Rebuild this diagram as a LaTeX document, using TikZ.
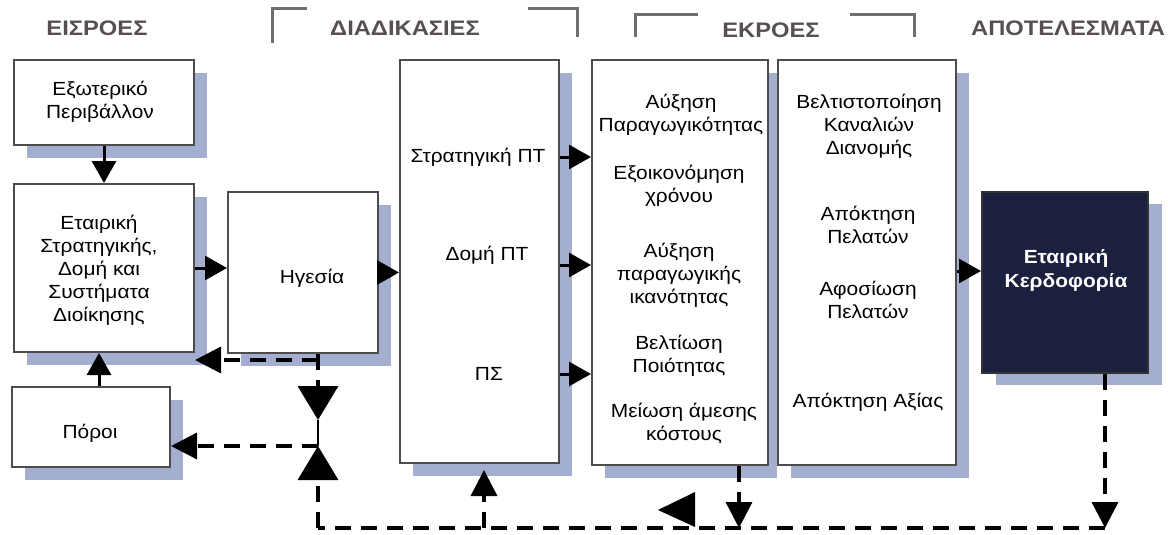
\documentclass[tikz,border=0pt]{standalone}
\usepackage{fontspec}
\setmainfont{Liberation Sans}[FakeStretch=1.1]
\usetikzlibrary{arrows.meta}
\definecolor{shadowc}{RGB}{163,174,208}
\definecolor{navy}{RGB}{26,32,62}
\definecolor{hdr}{RGB}{88,80,80}
\definecolor{brk}{RGB}{110,110,110}
\tikzset{
  box/.style={draw=black!70, line width=2pt, fill=white, inner sep=0pt},
  darkbox/.style={draw=black!80, line width=2pt, fill=navy, inner sep=0pt},
  shadowbox/.style={fill=shadowc, draw=none},
  txt/.style={align=center, font=\fontsize{19}{23}\selectfont, inner sep=0pt},
  wtxt/.style={align=center, font=\bfseries\fontsize{19}{24}\selectfont, text=white, inner sep=0pt},
  hdrtxt/.style={font=\bfseries\fontsize{21}{24}\selectfont\addfontfeature{FakeStretch=1.13}, text=hdr, inner sep=0pt},
  solidarr/.style={line width=3pt, -{Triangle[length=22pt,width=24pt]}},
  dline/.style={line width=3.5pt, dash pattern=on 16pt off 10pt},
  darr/.style={dline, -{Triangle[length=26pt,width=26pt]}},
  bigdarr/.style={dline, -{Triangle[length=34pt,width=40pt]}},
  bracket/.style={draw=brk, line width=3pt},
}
\begin{document}
\begin{tikzpicture}[x=1pt,y=-1pt]
\path[use as bounding box] (0,0) rectangle (1168,535);

% headers
\node[hdrtxt] (h1) at (97,28) {ΕΙΣΡΟΕΣ};
\node[hdrtxt] (h2) at (405,28) {ΔΙΑΔΙΚΑΣΙΕΣ};
\node[hdrtxt] (h3) at (771,30) {ΕΚΡΟΕΣ};
\node[hdrtxt] (h4) at (1068,28) {ΑΠΟΤΕΛΕΣΜΑΤΑ};

% brackets
\draw[bracket] (272,43) -- (272,9) -- (307,9);
\draw[bracket] (528,9) -- (577,9) -- (577,37);
\draw[bracket] (635,37) -- (635,15) -- (698,15);
\draw[bracket] (850,15) -- (914,15) -- (914,37);

% shadows
\fill[shadowbox] (27,73) rectangle (207,158);
\fill[shadowbox] (27,197) rectangle (207,365);
\fill[shadowbox] (241,205) rectangle (391,366);
\fill[shadowbox] (25,400) rectangle (183,480);
\fill[shadowbox] (413,73) rectangle (572,476);
\fill[shadowbox] (605,73) rectangle (777,478);
\fill[shadowbox] (791,73) rectangle (969,478);
\fill[shadowbox] (996,204) rectangle (1162,385);

% boxes
\node[box, minimum width=180pt, minimum height=85pt] (ext) at (104,102.5) {};
\node[txt] (extt) at (100,102) {Εξωτερικό\\Περιβάλλον};
\node[box, minimum width=180pt, minimum height=168pt] (eta) at (104,268) {};
\node[txt] (etat) at (99,270) {Εταιρική\\Στρατηγικής,\\Δομή και\\Συστήματα\\Διοίκησης};
\node[box, minimum width=150pt, minimum height=161pt] (hg) at (303,272.5) {};
\node[txt] (hgt) at (312,278) {Ηγεσία};
\node[box, minimum width=158pt, minimum height=80pt] (po) at (91,427) {};
\node[txt] (pot) at (90,433) {Πόροι};
\node[box, minimum width=159pt, minimum height=403pt] (proc) at (479.5,261.5) {};
\node[txt] (s1) at (478,157) {Στρατηγική ΠΤ};
\node[txt] (s2) at (487,255) {Δομή ΠΤ};
\node[txt] (s3) at (489,374) {ΠΣ};
\node[box, minimum width=176pt, minimum height=405pt] (out1) at (680,262.5) {};
\node[txt] (o1) at (681,115) {Αύξηση\\Παραγωγικότητας};
\node[txt] (o2) at (679,186) {Εξοικονόμηση\\χρόνου};
\node[txt] (o3) at (679,275) {Αύξηση\\παραγωγικής\\ικανότητας};
\node[txt] (o4) at (679,356) {Βελτίωση\\Ποιότητας};
\node[txt] (o5) at (684,423) {Μείωση άμεσης\\κόστους};
\node[box, minimum width=178pt, minimum height=405pt] (out2) at (867,262.5) {};
\node[txt] (r1) at (869,126) {Βελτιστοποίηση\\Καναλιών\\Διανομής};
\node[txt] (r2) at (868,225) {Απόκτηση\\Πελατών};
\node[txt] (r3) at (868,300) {Αφοσίωση\\Πελατών};
\node[txt] (r4) at (868,402) {Απόκτηση Αξίας};
\node[darkbox, minimum width=166pt, minimum height=181pt] (kerd) at (1065,282.5) {};
\node[wtxt] (kt) at (1066,270) {Εταιρική\\Κερδοφορία};

% helper coordinates
\coordinate (y265) at (0,265);
\coordinate (y271) at (0,271);
\coordinate (vx) at (318,0);
\coordinate (h1c) at (318,360);
\coordinate (j1) at (318,420);
\coordinate (j2) at (318,446);
\coordinate (jb) at (318,528);
\coordinate (px) at (484,528);
\coordinate (ox) at (739,528);
\coordinate (kx) at (1105,528);

% solid arrows
\draw[solidarr] (ext.south) -- (eta.north);
\draw[solidarr] ([xshift=8pt]po.north) -- ([xshift=8pt]po.north |- eta.south);
\draw[solidarr] (eta.east) -- (eta.east -| hg.west);
\draw[solidarr] (hg.east) -- (hg.east -| proc.west);
\draw[solidarr] (proc.east |- s1) -- (out1.west |- s1);
\draw[solidarr] (proc.east |- y265) -- (out1.west |- y265);
\draw[solidarr] (proc.east |- s3) -- (out1.west |- s3);
\draw[solidarr] (out2.east |- y271) -- (kerd.west |- y271);

% dashed feedback
\draw[darr] (h1c) -- (eta.east |- h1c);
\draw[bigdarr] (hg.south -| vx) -- (j1);
\draw[line width=2.5pt] (j1) -- (j2);
\draw[bigdarr] (jb) -- (j2);
\draw[darr] (j2) -- (po.east |- j2);
\draw[darr] (kerd.south -| kx) -- (kx);
\draw[dline] (kx) -- (jb);
\draw[darr, shorten >=6pt] (px) -- (proc.south -| px);
\draw[darr] (out1.south -| ox) -- (ox);
\fill (695,492) -- (695,527) -- (658,510) -- cycle;
\end{tikzpicture}
\end{document}
